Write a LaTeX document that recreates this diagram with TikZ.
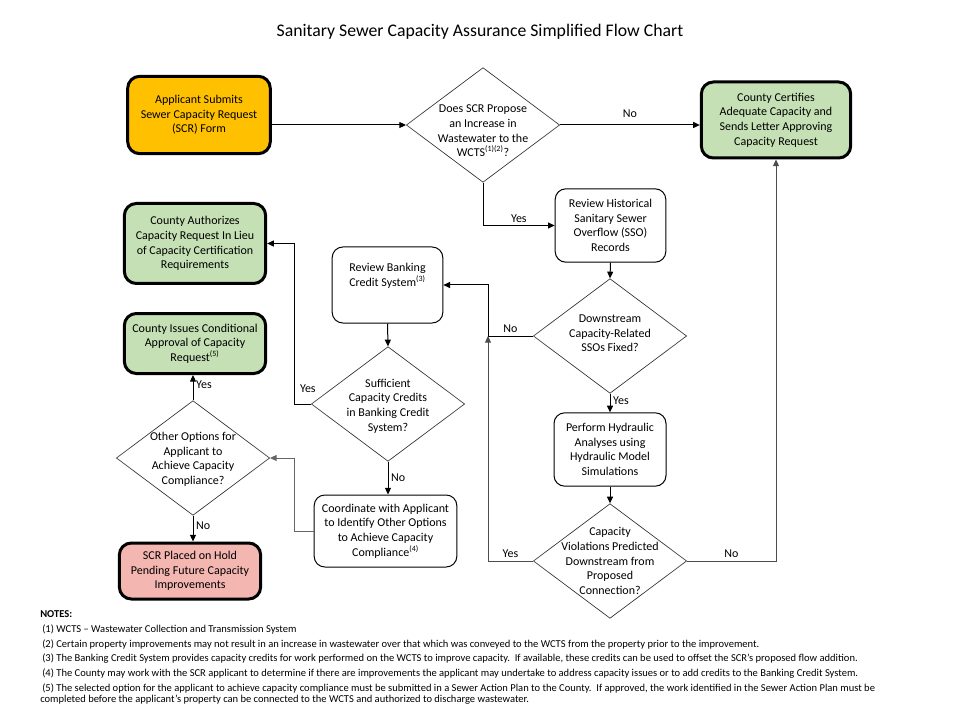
\documentclass[tikz,border=0pt]{standalone}
\usepackage{fontspec}
\setmainfont{Carlito}
\usetikzlibrary{shapes.geometric, arrows.meta, positioning, calc}

\definecolor{gold}{HTML}{FFC000}
\definecolor{lightgreen}{HTML}{C5E0B4}
\definecolor{salmon}{HTML}{F4B6B0}

% diamond text: smashed so the diamond keeps its fixed size
\newcommand{\dtxt}[3][0pt]{\smash{\lower\dimexpr2.25pt+#1\relax\hbox{\parbox{#2}{\centering #3}}}}

\begin{document}
\begin{tikzpicture}[
    x=0.75pt, y=-0.75pt,
    font=\fontsize{9}{11}\selectfont,
    startbox/.style={draw, line width=2.25pt, rounded corners=9pt, align=center, fill=gold},
    endbox/.style={draw, line width=2.25pt, rounded corners=9pt, align=center, fill=lightgreen},
    holdbox/.style={draw, line width=2.25pt, rounded corners=9pt, align=center, fill=salmon},
    stepbox/.style={draw, line width=0.75pt, rounded corners=8pt, align=center, fill=white},
    decision/.style={diamond, draw=black!80, line width=0.5pt, minimum width=115pt, minimum height=86pt, inner sep=0pt},
    arrow/.style={-{Triangle[length=5pt,width=4.5pt]}, line width=0.75pt},
    lbl/.style={inner sep=2pt, text=black}
]
    \useasboundingbox (0,0) rectangle (960,720);

    \node[font=\fontsize{13.3}{16}\selectfont] (title) at (480,32) {Sanitary Sewer Capacity Assurance Simplified Flow Chart};

    % boxes
    \node[startbox, minimum width=107pt, minimum height=58pt] (submit) at (199,115) {Applicant Submits\\Sewer Capacity Request\\(SCR) Form};
    \node[endbox, minimum width=112pt, minimum height=57pt] (certify) at (776,120) {County Certifies\\Adequate Capacity and\\Sends Letter Approving\\Capacity Request};
    \node[endbox, minimum width=106pt, minimum height=60pt] (authorize) at (195,243.5) {County Authorizes\\Capacity Request In Lieu\\of Capacity Certification\\Requirements};
    \node[endbox, minimum width=106pt, minimum height=45pt] (conditional) at (195,343.5) {County Issues Conditional\\Approval of Capacity\\Request\textsuperscript{(5)}};
    \node[holdbox, minimum width=106pt, minimum height=42pt] (hold) at (190,571) {SCR Placed on Hold\\Pending Future Capacity\\Improvements};
    \node[stepbox, minimum width=83pt, minimum height=55pt] (historical) at (610.5,225.5) {Review Historical\\Sanitary Sewer\\Overflow (SSO)\\Records};
    \node[stepbox, minimum width=83pt, minimum height=57pt] (banking) at (387.5,285) {Review Banking\\Credit System\textsuperscript{(3)}\\[4pt]};
    \node[stepbox, minimum width=107pt, minimum height=54pt] (coordinate) at (385.5,531) {Coordinate with Applicant\\to Identify Other Options\\to Achieve Capacity\\Compliance\textsuperscript{(4)}};
    \node[stepbox, minimum width=84pt, minimum height=55pt] (hydraulic) at (610,449.5) {Perform Hydraulic\\Analyses using\\Hydraulic Model\\Simulations};

    % decisions
    \node[decision] (d1) at (483,125) {\dtxt[4.5pt]{80pt}{Does SCR Propose\\an Increase in\\Wastewater to the\\WCTS\textsuperscript{(1)(2)}?}};
    \node[decision] (d2) at (610,336) {\dtxt[-2pt]{80pt}{Downstream\\Capacity-Related\\SSOs Fixed?}};
    \node[decision] (d3) at (388,404) {\dtxt[1.5pt]{80pt}{Sufficient\\Capacity Credits\\in Banking Credit\\System?}};
    \node[decision] (d4) at (193,458) {\dtxt[1pt]{80pt}{Other Options for\\Applicant to\\Achieve Capacity\\Compliance?}};
    \node[decision] (d5) at (610,561) {\dtxt{80pt}{Capacity\\Violations Predicted\\Downstream from\\Proposed\\Connection?}};

    \coordinate (merge) at (488,336);
    \coordinate (bendA) at (294,404);
    \coordinate (bendB) at (294,531);

    % connectors
    \draw[arrow] (submit.east |- d1.west) -- (d1.west);
    \draw[arrow] (d1.east) -- node[lbl, above=3pt] (no1) {No} (certify.west |- d1.east);
    \draw[arrow] (d1.south) |- node[lbl, pos=0.75, above] (yes1) {Yes} (historical.west);
    \draw[arrow] (historical.south) -- (d2.north);
    \draw[arrow] (d2.west) -- node[lbl, above] (no2) {No} (merge) |- (banking.east);
    \draw[arrow] (banking.south) -- (d3.north);
    \draw[arrow] (d3.west) -- node[lbl, above=6pt, xshift=4pt] (yes3) {Yes} (bendA) |- (authorize.east);
    \draw[arrow] (d3.south) -- node[lbl, right] (no3) {No} (d3.south |- coordinate.north);
    \draw[arrow, black!60] (coordinate.west) -- (bendB) |- (d4.east);
    \draw[arrow] (d4.north) -- node[lbl, right, pos=0.6] (yes4) {Yes} (d4.north |- conditional.south);
    \draw[arrow] (d4.south) -- node[lbl, right, pos=0.4] (no4) {No} (d4.south |- hold.north);
    \draw[arrow] (d2.south) -- node[lbl, right, pos=0.4] (yes2) {Yes} (hydraulic.north);
    \draw[arrow] (hydraulic.south) -- (d5.north);
    \draw[arrow, black!70] (d5.east) -- node[lbl, above] (no5) {No} (d5.east -| certify.south) -- (certify.south);
    \draw[arrow, black!70] (d5.west) -- node[lbl, above] (yes5) {Yes} (d5.west -| merge) -- (merge);

    % notes
    \node[anchor=north west, align=left, inner sep=0pt, font=\fontsize{7.9}{8.4}\selectfont] (notes) at (40,610) {%
        \textbf{NOTES:}\\[3pt]
        \hspace{1.5pt}(1) WCTS – Wastewater Collection and Transmission System\\[2.6pt]
        \hspace{1.5pt}(2) Certain property improvements may not result in an increase in wastewater over that which was conveyed to the WCTS from the property prior to the improvement.\\[2.6pt]
        \hspace{1.5pt}(3) The Banking Credit System provides capacity credits for work performed on the WCTS to improve capacity.\ \ If available, these credits can be used to offset the SCR’s proposed flow addition.\\[2.6pt]
        \hspace{1.5pt}(4) The County may work with the SCR applicant to determine if there are improvements the applicant may undertake to address capacity issues or to add credits to the Banking Credit System.\\[2.6pt]
        \hspace{1.5pt}(5) The selected option for the applicant to achieve capacity compliance must be submitted in a Sewer Action Plan to the County.\ \ If approved, the work identified in the Sewer Action Plan must be\\
        completed before the applicant’s property can be connected to the WCTS and authorized to discharge wastewater.};
\end{tikzpicture}
\end{document}
